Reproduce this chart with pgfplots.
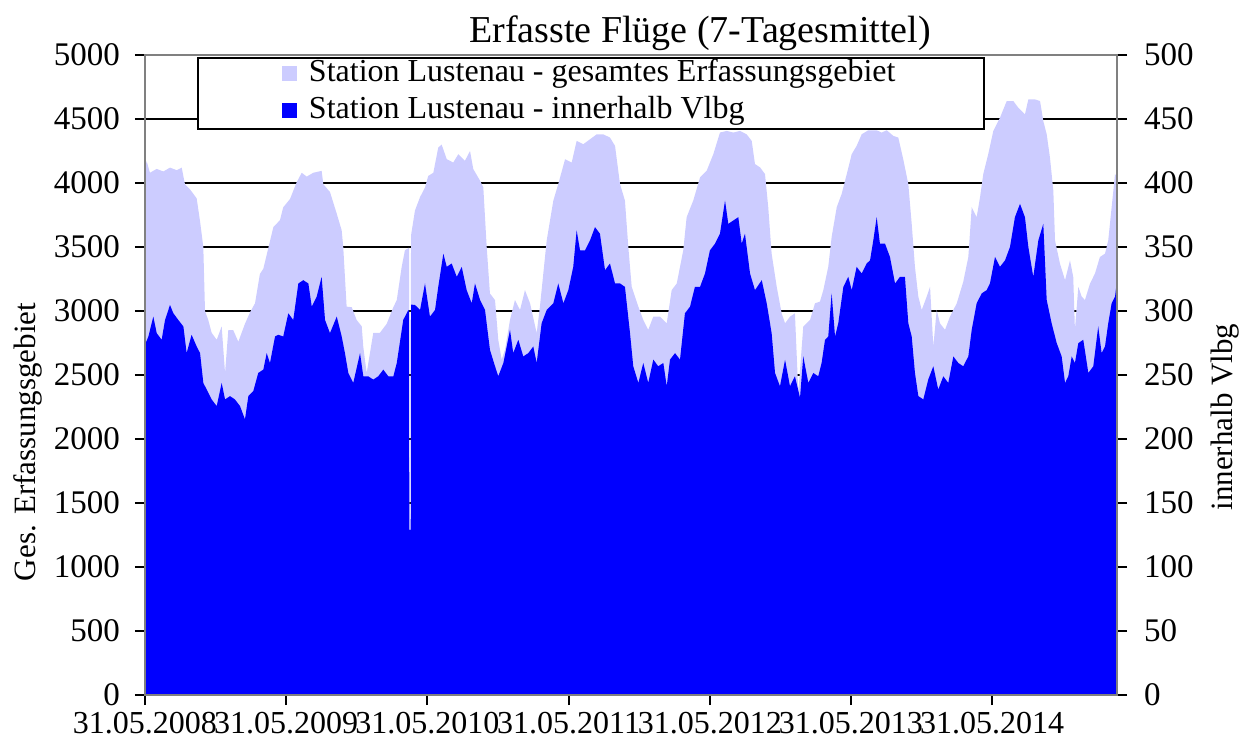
\documentclass[border=0pt]{standalone}
\usepackage{pgfplots}
\pgfplotsset{compat=1.18}
\usepackage{fontspec}
\setmainfont{Liberation Serif}
\definecolor{lav}{RGB}{204,204,255}
\definecolor{vblue}{RGB}{0,0,255}
\definecolor{fr}{RGB}{128,128,128}

\pgfplotstableread{
t v
0 4110
0.012 4170
0.035 4080
0.083 4110
0.130 4090
0.177 4120
0.225 4100
0.260 4120
0.283 3990
0.319 3950
0.366 3880
0.390 3700
0.413 3500
0.425 3000
0.448 2930
0.472 2830
0.508 2775
0.543 2880
0.567 2515
0.590 2850
0.625 2850
0.661 2760
0.708 2900
0.744 2990
0.779 3060
0.814 3290
0.838 3330
0.909 3655
0.956 3710
0.979 3810
1.027 3875
1.074 4005
1.110 4080
1.145 4050
1.192 4080
1.251 4095
1.263 3990
1.310 3930
1.358 3760
1.393 3630
1.404 3500
1.428 3034
1.464 3030
1.499 2930
1.535 2880
1.546 2720
1.570 2515
1.593 2670
1.617 2830
1.664 2830
1.712 2900
1.759 3030
1.783 3085
1.818 3345
1.841 3475
1.865 3490
1.870 3495
1.872 1290
1.882 1290
1.884 3590
1.912 3785
1.948 3890
1.983 3965
2.006 4055
2.042 4080
2.077 4277
2.101 4300
2.137 4186
2.183 4160
2.219 4225
2.266 4174
2.302 4250
2.325 4109
2.373 4018
2.396 3966
2.420 3500
2.443 3137
2.479 3085
2.502 2775
2.526 2620
2.550 2700
2.585 2930
2.620 3085
2.656 3008
2.691 3163
2.727 3060
2.774 2827
2.797 3034
2.845 3552
2.892 3863
2.927 3992
2.975 4186
3.022 4160
3.057 4329
3.104 4303
3.152 4342
3.199 4380
3.246 4380
3.293 4355
3.329 4290
3.364 3992
3.399 3863
3.423 3500
3.447 3189
3.494 3034
3.529 2930
3.564 2853
3.600 2956
3.647 2956
3.695 2904
3.730 3163
3.766 3215
3.812 3474
3.836 3733
3.883 3863
3.931 4044
3.978 4096
4.025 4225
4.072 4394
4.120 4407
4.167 4394
4.214 4407
4.261 4380
4.297 4329
4.320 4148
4.356 4122
4.391 4070
4.414 3811
4.438 3448
4.474 3189
4.509 2982
4.533 2904
4.568 2956
4.603 2982
4.627 2360
4.662 2878
4.710 2930
4.745 3060
4.780 3073
4.804 3163
4.839 3345
4.863 3578
4.899 3811
4.934 3915
4.970 4070
5.005 4225
5.040 4290
5.076 4381
5.123 4412
5.182 4412
5.217 4394
5.253 4412
5.300 4368
5.335 4355
5.370 4186
5.406 3992
5.430 3681
5.453 3345
5.477 3112
5.501 3008
5.536 3112
5.560 3189
5.583 2723
5.607 3008
5.630 2904
5.666 2853
5.701 2956
5.749 3060
5.795 3228
5.831 3422
5.855 3811
5.890 3733
5.914 3889
5.937 4070
5.972 4225
6.008 4407
6.055 4510
6.103 4640
6.150 4640
6.185 4588
6.232 4536
6.256 4653
6.303 4653
6.339 4640
6.362 4484
6.386 4381
6.409 4200
6.433 3940
6.445 3552
6.480 3370
6.516 3241
6.551 3396
6.574 3267
6.586 2853
6.610 3189
6.634 3112
6.657 3086
6.693 3215
6.728 3293
6.763 3422
6.799 3448
6.822 3552
6.846 3811
6.870 4070
6.884 4044
}\total

\pgfplotstableread{
t v
0 273.6
0.024 280.1
0.059 295.6
0.083 282.7
0.118 277.5
0.142 293.0
0.177 304.7
0.201 298.2
0.236 293.0
0.272 287.9
0.295 267.1
0.330 281.4
0.366 272.3
0.390 267.1
0.413 243.8
0.437 238.6
0.472 230.9
0.508 225.7
0.543 243.8
0.567 230.9
0.602 233.5
0.637 230.9
0.673 225.7
0.708 215.3
0.732 233.5
0.767 237.4
0.802 251.6
0.838 254.2
0.862 267.1
0.885 259.3
0.921 280.1
0.944 281.4
0.979 280.1
1.015 298.2
1.050 293.0
1.086 321.5
1.121 324.1
1.157 321.5
1.181 303.4
1.216 311.2
1.251 326.7
1.275 293.0
1.310 282.7
1.358 295.6
1.393 280.1
1.416 267.1
1.440 251.6
1.475 243.8
1.523 267.1
1.546 249.0
1.581 249.0
1.617 246.4
1.652 249.0
1.688 254.2
1.723 249.0
1.759 249.0
1.783 259.3
1.829 293.0
1.865 300.8
1.870 300.0
1.872 129.0
1.882 129.0
1.884 305.0
1.912 304.7
1.948 300.8
1.983 321.5
2.018 295.6
2.054 300.8
2.077 318.9
2.113 344.8
2.137 334.5
2.172 337.1
2.208 326.7
2.243 334.5
2.278 316.3
2.314 306.0
2.337 321.5
2.373 308.6
2.408 300.8
2.443 269.7
2.479 256.8
2.502 249.0
2.538 259.4
2.585 285.3
2.608 267.1
2.644 277.5
2.679 264.5
2.715 267.1
2.750 272.3
2.774 259.4
2.809 290.4
2.845 300.8
2.892 306.0
2.927 321.5
2.963 306.0
2.998 316.3
3.033 334.5
3.057 363.0
3.081 347.4
3.116 347.4
3.152 355.2
3.187 365.5
3.222 360.4
3.258 331.9
3.293 337.1
3.329 321.5
3.364 321.5
3.399 318.9
3.435 282.7
3.458 256.8
3.494 243.8
3.529 259.4
3.564 243.8
3.600 262.0
3.635 256.8
3.671 259.4
3.695 241.2
3.718 262.0
3.754 267.1
3.789 262.0
3.824 298.2
3.860 303.4
3.895 318.9
3.931 318.9
3.966 329.3
4.001 347.4
4.037 352.6
4.072 360.4
4.108 386.3
4.131 368.1
4.167 370.7
4.202 373.3
4.226 352.6
4.249 360.4
4.285 329.3
4.320 316.3
4.368 324.1
4.403 306.0
4.438 282.7
4.462 251.6
4.497 241.2
4.533 261.9
4.568 241.2
4.603 249.0
4.639 232.2
4.662 264.5
4.698 243.8
4.733 251.6
4.768 249.0
4.792 259.4
4.816 277.5
4.839 280.1
4.863 313.8
4.887 280.1
4.910 290.4
4.946 318.9
4.981 326.7
5.005 316.3
5.040 334.5
5.076 329.3
5.111 337.1
5.135 339.6
5.158 355.2
5.182 373.3
5.205 352.6
5.241 352.6
5.276 342.2
5.312 321.5
5.347 326.7
5.382 326.7
5.406 290.4
5.430 280.1
5.453 251.6
5.477 233.5
5.512 230.9
5.547 246.4
5.583 256.8
5.618 238.6
5.654 249.0
5.689 243.8
5.725 264.5
5.760 259.4
5.795 256.8
5.831 264.5
5.855 285.3
5.890 306.0
5.926 313.8
5.961 316.3
5.984 321.5
6.020 342.2
6.055 334.5
6.091 339.6
6.126 350.0
6.161 373.3
6.197 383.7
6.232 373.3
6.256 350.0
6.291 326.7
6.327 355.2
6.362 368.1
6.386 308.6
6.421 290.4
6.457 274.9
6.492 264.5
6.516 243.8
6.539 249.0
6.563 264.5
6.586 259.4
6.610 274.9
6.645 277.5
6.681 251.6
6.716 256.8
6.751 287.9
6.775 267.1
6.799 272.3
6.822 290.4
6.846 306.0
6.870 311.2
6.884 324.1
}\vlbg

\begin{document}
\begin{tikzpicture}
\pgfplotsset{
  base/.style={
    scale only axis, width=486bp, height=320bp,
    xmin=0, xmax=6.884,
    tick align=outside,
    major tick length=5bp,
    every tick/.style={black, line width=1bp},
    tick label style={font=\fontsize{16.5bp}{19bp}\selectfont},
    /pgf/number format/assume math mode=true,
    /pgf/number format/1000 sep={},
    axis line style={fr, line width=1.3bp},
  }
}
\useasboundingbox (-72.5bp,-27bp) rectangle (551bp,347.5bp);
\begin{axis}[base,
  ymin=0, ymax=5000, ytick={0,500,...,5000},
  ytick pos=left, xtick pos=bottom,
  yticklabel style={xshift=-4bp},
  xticklabel style={font=\fontsize{16bp}{19bp}\selectfont},
  xtick={0,1,2,3,4,5,6},
  xticklabels={31.05.2008,31.05.2009,31.05.2010,31.05.2011,31.05.2012,31.05.2013,31.05.2014},
  ymajorgrids, grid style={black, line width=1.3bp},
]
\addplot[fill=lav, draw=none] table[x=t,y=v] {\total} \closedcycle;
\end{axis}
\begin{axis}[base, axis on top,
  ymin=0, ymax=500, ytick={0,50,...,500},
  ytick pos=right, yticklabel pos=right,
  yticklabel style={xshift=5bp},
  xtick=\empty,
  legend cell align=left,
  legend image code/.code={\fill[#1] (0bp,-3.2bp) rectangle (7.5bp,4.3bp); \path (11.5bp,0bp);},
  legend style={at={(rel axis cs:0.0535,0.997)}, anchor=north west,
    draw=black, line width=1bp, inner xsep=42bp, inner ysep=0bp,
    font=\fontsize{16bp}{18bp}\selectfont, row sep=1.5bp,
    nodes={inner ysep=1.5bp, text height=10.5bp, text depth=3.5bp}},
]
\addlegendimage{fill=lav, draw=none}
\addlegendentry{Station Lustenau - gesamtes Erfassungsgebiet}
\addplot[fill=vblue, draw=none] table[x=t,y=v] {\vlbg} \closedcycle;
\addlegendentry{Station Lustenau - innerhalb Vlbg}
\end{axis}
\node[font=\fontsize{19bp}{22bp}\selectfont] at (277.5bp,331bp) {Erfasste Flüge (7-Tagesmittel)};
\node[rotate=90, font=\fontsize{15.5bp}{18bp}\selectfont] at (-58.5bp,126.5bp) {Ges. Erfassungsgebiet};
\node[rotate=90, font=\fontsize{15.5bp}{18bp}\selectfont] at (540bp,139bp) {innerhalb Vlbg};
\end{tikzpicture}
\end{document}
